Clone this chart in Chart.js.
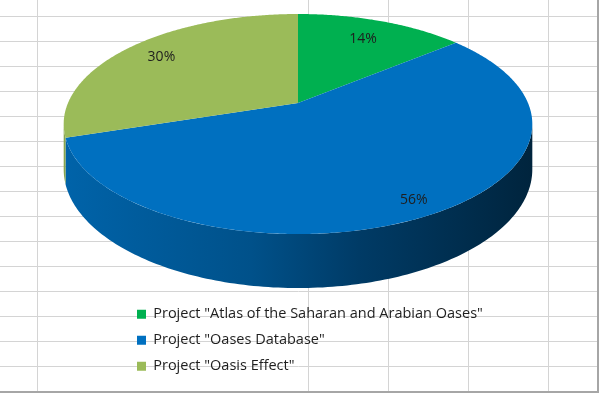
<!DOCTYPE html>
<html>
<head>
<meta charset="utf-8">
<script src="https://cdn.jsdelivr.net/npm/chart.js@4.4.1/dist/chart.umd.min.js"></script>
<style>
html,body{margin:0;padding:0;background:#ffffff;overflow:hidden}
#wrap{width:599px;height:393px;position:relative}
canvas{display:block}
</style>
</head>
<body>
<div id="wrap"><canvas id="c" width="599" height="393"></canvas></div>
<script>
// ---- data ----
const categories = [
  'Project "Atlas of the Saharan and Arabian Oases"',
  'Project "Oases Database"',
  'Project "Oasis Effect"'
];
const shares = [14, 56, 30];
const sliceColors = ['#00B050', '#0070C0', '#9BBB59'];

// ---- view (3D perspective look of the Excel pie) ----
const VIEW = { cx: 298, cy: 103, R: 230, Rb: 106, p: 0.191, h: 43.7 };
const LABEL_RADIUS = [0.75, 0.89, 0.8];
const FONT_FAMILY = '"Open Sans"';

function proj(u, v) {
  const d = 1 - VIEW.p * v;
  return { x: VIEW.cx + VIEW.R * u / d, y: VIEW.cy + VIEW.Rb * v / d, d: d };
}

function hexToRgb(h) {
  const n = parseInt(h.slice(1), 16);
  return [(n >> 16) & 255, (n >> 8) & 255, n & 255];
}
function shade(h, f) {
  const c = hexToRgb(h).map(v => Math.round(v * f));
  return 'rgb(' + c.join(',') + ')';
}

const gridPlugin = {
  id: 'sheetGrid',
  beforeDraw(chart) {
    const ctx = chart.ctx;
    ctx.save();
    ctx.fillStyle = '#ffffff';
    ctx.fillRect(0, 0, chart.width, chart.height);
    ctx.strokeStyle = '#d4d4d4';
    ctx.lineWidth = 1;
    ctx.beginPath();
    for (let y = 16; y < 390; y += 25) {
      ctx.moveTo(0, y + 0.5); ctx.lineTo(597, y + 0.5);
    }
    [37, 308, 388, 468, 548].forEach(x => {
      ctx.moveTo(x + 0.5, 0); ctx.lineTo(x + 0.5, 391);
    });
    ctx.stroke();
    ctx.strokeStyle = '#a6a6a6';
    ctx.lineWidth = 2;
    ctx.beginPath();
    ctx.moveTo(0, 392); ctx.lineTo(599, 392);
    ctx.moveTo(598, 0); ctx.lineTo(598, 393);
    ctx.stroke();
    ctx.restore();
  }
};

let saved = null;
const pie3dPlugin = {
  id: 'pie3d',
  beforeDatasetsDraw(chart) {
    const ctx = chart.ctx;
    const meta = chart.getDatasetMeta(0);
    const els = meta.data;
    if (!els.length) return;
    const x0 = els[0].x, y0 = els[0].y, r0 = els[0].outerRadius;
    const colors = chart.data.datasets[0].backgroundColor;

    // sides
    const t1 = Math.asin(VIEW.p), t2 = Math.PI - Math.asin(VIEW.p);
    const xl = VIEW.cx - VIEW.R * 1.02, xr = VIEW.cx + VIEW.R * 1.02;
    els.forEach((el, i) => {
      const s = el.startAngle, e = el.endAngle;
      for (let k = -1; k <= 1; k++) {
        const lo = Math.max(s, t1 + 2 * Math.PI * k);
        const hi = Math.min(e, t2 + 2 * Math.PI * k);
        if (hi <= lo) continue;
        const n = Math.max(4, Math.ceil((hi - lo) / (Math.PI / 180)));
        ctx.save();
        ctx.beginPath();
        for (let j = 0; j <= n; j++) {
          const a = lo + (hi - lo) * j / n;
          const P = proj(Math.cos(a), Math.sin(a));
          if (j === 0) ctx.moveTo(P.x, P.y); else ctx.lineTo(P.x, P.y);
        }
        for (let j = n; j >= 0; j--) {
          const a = lo + (hi - lo) * j / n;
          const P = proj(Math.cos(a), Math.sin(a));
          ctx.lineTo(P.x, P.y + VIEW.h / P.d);
        }
        ctx.closePath();
        const g = ctx.createLinearGradient(xl, 0, xr, 0);
        const base = colors[i];
        g.addColorStop(0, shade(base, 0.88));
        g.addColorStop(0.4, shade(base, 0.72));
        g.addColorStop(0.63, shade(base, 0.53));
        g.addColorStop(1, shade(base, 0.32));
        ctx.fillStyle = g;
        ctx.fill();
        ctx.restore();
      }
    });

    // map the library's arc drawing onto the tilted face
    const map = (px, py) => proj((px - x0) / r0, (py - y0) / r0);
    const proto = Object.getPrototypeOf(ctx);
    const oMove = proto.moveTo, oLine = proto.lineTo;
    saved = true;
    ctx.moveTo = function (x, y) { const q = map(x, y); oMove.call(ctx, q.x, q.y); };
    ctx.lineTo = function (x, y) { const q = map(x, y); oLine.call(ctx, q.x, q.y); };
    ctx.arc = function (x, y, r, a0, a1, ccw) {
      if (!(r > 0)) { const q = map(x, y); oLine.call(ctx, q.x, q.y); return; }
      let sweep = a1 - a0;
      const TAU = Math.PI * 2;
      if (!ccw) {
        if (sweep >= TAU) sweep = TAU;
        else { sweep = sweep % TAU; if (sweep < 0) sweep += TAU; }
      } else {
        if (-sweep >= TAU) sweep = -TAU;
        else { sweep = sweep % TAU; if (sweep > 0) sweep -= TAU; }
      }
      const n = Math.max(2, Math.ceil(Math.abs(sweep) / (Math.PI / 360)));
      for (let j = 0; j <= n; j++) {
        const a = a0 + sweep * j / n;
        const q = map(x + r * Math.cos(a), y + r * Math.sin(a));
        oLine.call(ctx, q.x, q.y);
      }
    };
  },
  afterDatasetsDraw(chart) {
    const ctx = chart.ctx;
    if (saved) {
      delete ctx.moveTo; delete ctx.lineTo; delete ctx.arc;
      saved = null;
    }
    const meta = chart.getDatasetMeta(0);
    const vals = chart.data.datasets[0].data;
    const total = vals.reduce((a, b) => a + b, 0);
    ctx.save();
    ctx.font = '14px ' + FONT_FAMILY;
    ctx.fillStyle = '#1e1e1e';
    ctx.textAlign = 'center';
    ctx.textBaseline = 'middle';
    meta.data.forEach((el, i) => {
      const mid = (el.startAngle + el.endAngle) / 2;
      const f = LABEL_RADIUS[i];
      const P = proj(f * Math.cos(mid), f * Math.sin(mid));
      ctx.fillText(Math.round(vals[i] / total * 100) + '%', P.x, P.y);
    });
    ctx.restore();
  }
};

new Chart(document.getElementById('c').getContext('2d'), {
  type: 'pie',
  data: {
    labels: categories,
    datasets: [{
      data: shares,
      backgroundColor: sliceColors,
      borderWidth: 0,
      clip: false
    }]
  },
  options: {
    responsive: false,
    animation: false,
    events: [],
    layout: { padding: { left: 125.5, right: 0, top: 0, bottom: 8 } },
    plugins: {
      legend: {
        position: 'left',
        align: 'end',
        maxWidth: 470,
        labels: {
          boxWidth: 9,
          boxHeight: 9,
          padding: 11.5,
          color: '#1e1e1e',
          font: { family: FONT_FAMILY, size: 14.5 }
        }
      },
      tooltip: { enabled: false }
    }
  },
  plugins: [gridPlugin, pie3dPlugin]
});
</script>
</body>
</html>
